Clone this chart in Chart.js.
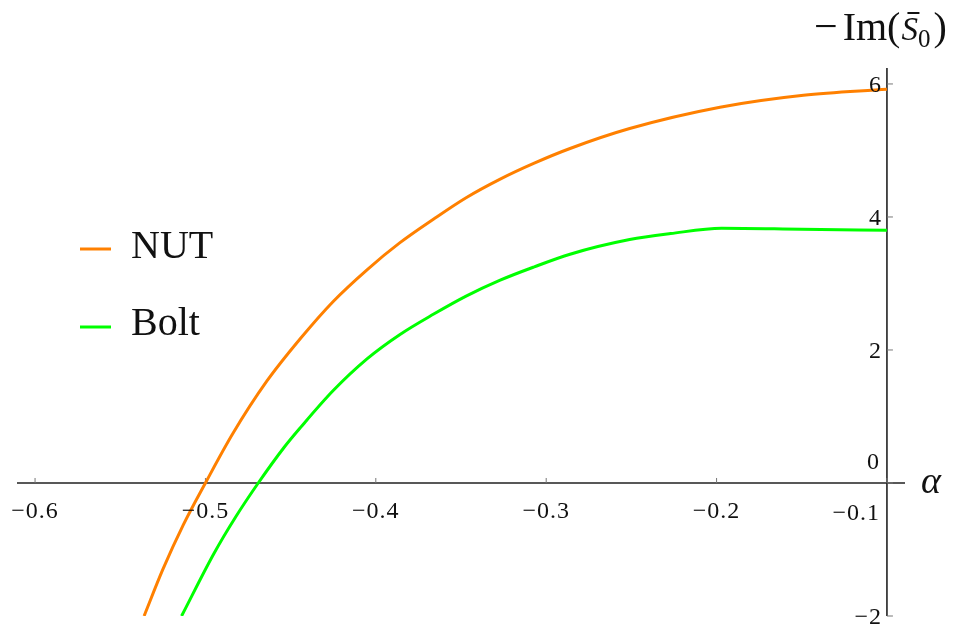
<!DOCTYPE html>
<html>
<head>
<meta charset="utf-8">
<script src="https://cdn.jsdelivr.net/npm/chart.js@4"></script>
<style>
    body { margin: 0; background: #fff; }
    #wrap { width: 964px; height: 631px; position: relative; }
</style>
</head>
<body>
<div id="wrap"><canvas id="plot"></canvas></div>
<script>
// values
const nutAlpha  = [-0.536, -0.525, -0.513, -0.500, -0.484, -0.464, -0.444, -0.425, -0.405, -0.386, -0.366, -0.347, -0.327, -0.307, -0.286, -0.251, -0.198, -0.149, -0.100];
const nutValues = [-2.00, -1.30, -0.63, 0.00, 0.74, 1.53, 2.18, 2.73, 3.21, 3.61, 3.97, 4.29, 4.57, 4.81, 5.03, 5.33, 5.65, 5.83, 5.92];
const boltAlpha  = [-0.514, -0.495, -0.482, -0.469, -0.454, -0.444, -0.425, -0.405, -0.386, -0.366, -0.347, -0.327, -0.307, -0.286, -0.251, -0.227, -0.197, -0.150, -0.100];
const boltValues = [-2.00, -1.06, -0.50, 0.00, 0.53, 0.84, 1.39, 1.87, 2.23, 2.54, 2.81, 3.05, 3.25, 3.44, 3.66, 3.75, 3.83, 3.815, 3.80];

const xTicks = [-0.6, -0.5, -0.4, -0.3, -0.2, -0.1];
const xTickLabels = ['\u22120.6', '\u22120.5', '\u22120.4', '\u22120.3', '\u22120.2', '\u22120.1'];
const yTicks = [-2, 0, 2, 4, 6];
const yTickLabels = ['\u22122', '0', '2', '4', '6'];

const seriesNames = ['NUT', 'Bolt'];
const seriesColors = ['#ff8000', '#00ff00'];

function toPoints(xs, ys) {
    return xs.map((x, i) => ({ x: x, y: ys[i] }));
}

const serif = '"Liberation Serif", "DejaVu Serif", serif';

// Mathematica style axes crossing at (-0.1, 0)
const axesLines = {
    id: 'axesLines',
    beforeDatasetsDraw(chart) {
        const { ctx, chartArea, scales } = chart;
        const x0 = scales.x.getPixelForValue(-0.1);
        const y0 = scales.y.getPixelForValue(0);
        ctx.save();
        ctx.strokeStyle = '#222';
        ctx.lineWidth = 1.6;
        ctx.beginPath();
        ctx.moveTo(chartArea.left, y0);
        ctx.lineTo(chartArea.right, y0);
        ctx.moveTo(x0, chartArea.top);
        ctx.lineTo(x0, chartArea.bottom);
        ctx.stroke();

        // tick marks
        ctx.strokeStyle = '#777';
        ctx.lineWidth = 1;
        ctx.beginPath();
        xTicks.forEach(v => {
            const px = scales.x.getPixelForValue(v);
            ctx.moveTo(px, y0);
            ctx.lineTo(px, y0 - 5);
        });
        yTicks.forEach(v => {
            const py = scales.y.getPixelForValue(v);
            ctx.moveTo(x0, py);
            ctx.lineTo(x0 + 6, py);
        });
        ctx.stroke();
        ctx.restore();
    }
};

const axesText = {
    id: 'axesText',
    afterDatasetsDraw(chart) {
        const { ctx, scales } = chart;
        const x0 = scales.x.getPixelForValue(-0.1);
        const y0 = scales.y.getPixelForValue(0);
        ctx.save();
        ctx.fillStyle = '#111';
        ctx.font = '24px ' + serif;
        ctx.letterSpacing = '1px';
        ctx.textBaseline = 'middle';

        xTicks.forEach((v, i) => {
            const px = scales.x.getPixelForValue(v);
            if (v === -0.1) {
                ctx.textAlign = 'right';
                ctx.fillText(xTickLabels[i], x0 - 7, y0 + 31);
            } else {
                ctx.textAlign = 'center';
                ctx.fillText(xTickLabels[i], px, y0 + 29);
            }
        });

        ctx.textAlign = 'right';
        yTicks.forEach((v, i) => {
            const py = scales.y.getPixelForValue(v);
            if (v === 0) {
                ctx.fillText(yTickLabels[i], x0 - 7, py - 20);
            } else {
                ctx.fillText(yTickLabels[i], x0 - 5, py + 2);
            }
        });
        ctx.letterSpacing = '0px';

        // axis names
        ctx.textAlign = 'left';
        ctx.textBaseline = 'alphabetic';
        ctx.font = 'italic 38px ' + serif;
        ctx.fillText('\u03b1', 921, 493);

        let tx = 814;
        const base = 40;
        ctx.font = '42px ' + serif;
        ctx.fillText('\u2212', tx, base);
        tx += ctx.measureText('\u2212').width + 5;
        ctx.font = '40px ' + serif;
        ctx.fillText('Im(', tx, base);
        tx += ctx.measureText('Im(').width + 1;
        ctx.font = 'italic 33px ' + serif;
        const sW = ctx.measureText('S').width;
        ctx.fillText('S', tx, base);
        ctx.fillRect(tx + 6, 12, 12, 2);
        tx += sW;
        ctx.font = '25px ' + serif;
        ctx.fillText('0', tx, base + 7);
        tx += ctx.measureText('0').width + 3;
        ctx.font = '40px ' + serif;
        ctx.fillText(')', tx, base);

        // legend
        ctx.font = '40px ' + serif;
        const rows = [249, 327];
        chart.data.datasets.forEach((ds, i) => {
            ctx.strokeStyle = ds.borderColor;
            ctx.lineWidth = 3;
            ctx.beginPath();
            ctx.moveTo(80, rows[i]);
            ctx.lineTo(111, rows[i]);
            ctx.stroke();
            ctx.fillText(ds.label, 131, rows[i] + 8 + (i === 0 ? 1 : 0));
        });
        ctx.restore();
    }
};

new Chart(document.getElementById('plot'), {
    type: 'scatter',
    data: {
        datasets: [{
            label: seriesNames[0],
            data: toPoints(nutAlpha, nutValues),
            borderColor: seriesColors[0],
            borderWidth: 3,
            showLine: true,
            pointRadius: 0,
            cubicInterpolationMode: 'monotone'
        }, {
            label: seriesNames[1],
            data: toPoints(boltAlpha, boltValues),
            borderColor: seriesColors[1],
            borderWidth: 3,
            showLine: true,
            pointRadius: 0,
            cubicInterpolationMode: 'monotone'
        }]
    },
    options: {
        responsive: true,
        maintainAspectRatio: false,
        animation: false,
        layout: { padding: { left: 17, right: 59, top: 68, bottom: 15 } },
        scales: {
            x: { type: 'linear', min: -0.6106, max: -0.0894, display: false },
            y: { type: 'linear', min: -2, max: 6.24, display: false }
        },
        plugins: {
            legend: { display: false },
            tooltip: { enabled: false }
        }
    },
    plugins: [axesLines, axesText]
});
</script>
</body>
</html>
